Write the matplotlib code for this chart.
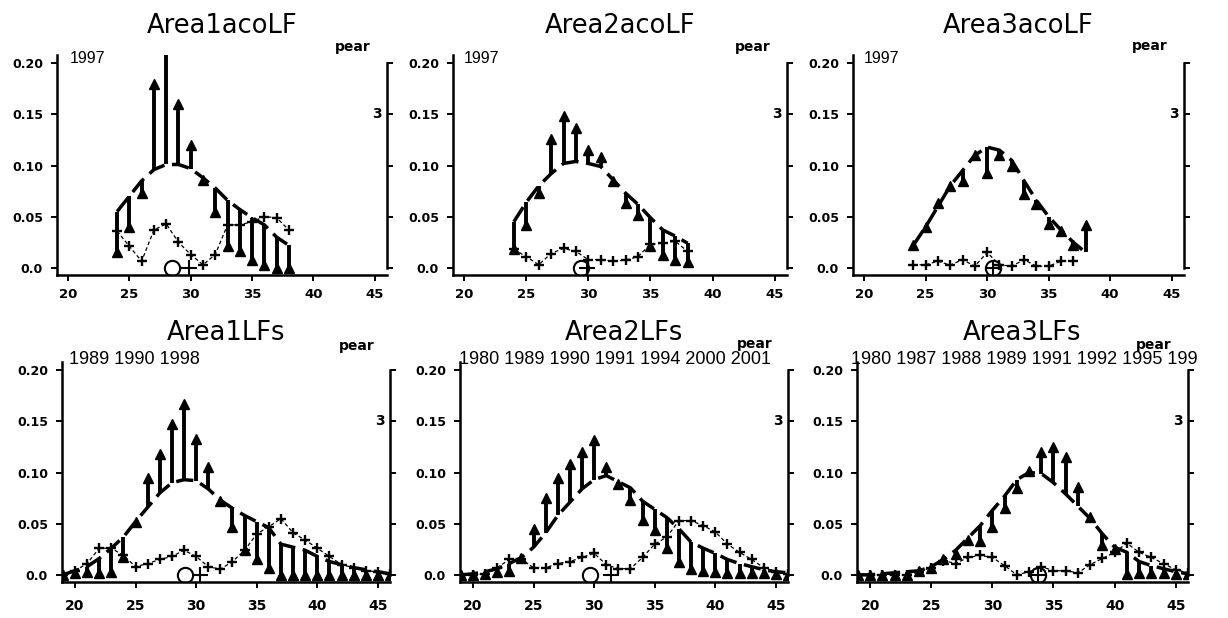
import matplotlib
matplotlib.use("Agg")
import matplotlib.pyplot as plt

# ── data ───────────────────────────────────────────────────────────────────────
LEN_TOP = list(range(24, 39))
LEN_BOT = list(range(19, 47))

TITLES = ["Area1acoLF", "Area2acoLF", "Area3acoLF",
          "Area1LFs", "Area2LFs", "Area3LFs"]
YEARS = ["1997", "1997", "1997",
         "1989 1990 1998",
         "1980 1989 1990 1991 1994 2000 2001",
         "1980 1987 1988 1989 1991 1992 1995 199"]

# predicted (dashed), observed (triangles), other series (+)
pred1 = [0.055, 0.070, 0.085, 0.096, 0.101, 0.101, 0.097, 0.088, 0.078, 0.066, 0.057, 0.049, 0.042, 0.030, 0.022]
obs1 = [0.015, 0.040, 0.073, 0.180, 0.215, 0.160, 0.120, 0.086, 0.055, 0.021, 0.016, 0.008, 0.003, 0.000, 0.000]
plus1 = [0.036, 0.021, 0.0065, 0.037, 0.043, 0.025, 0.013, 0.003, 0.013, 0.042, 0.042, 0.045, 0.050, 0.049, 0.037]

pred2 = [0.045, 0.064, 0.080, 0.092, 0.102, 0.104, 0.102, 0.099, 0.086, 0.073, 0.062, 0.049, 0.037, 0.031, 0.024]
obs2 = [0.018, 0.042, 0.073, 0.126, 0.148, 0.137, 0.115, 0.108, 0.085, 0.063, 0.052, 0.021, 0.013, 0.008, 0.006]
plus2 = [0.018, 0.011, 0.003, 0.014, 0.019, 0.016, 0.008, 0.008, 0.0065, 0.0075, 0.011, 0.023, 0.024, 0.026, 0.016]

pred3 = [0.022, 0.040, 0.060, 0.080, 0.095, 0.110, 0.118, 0.115, 0.105, 0.085, 0.066, 0.050, 0.037, 0.025, 0.015]
obs3 = [0.022, 0.040, 0.063, 0.080, 0.085, 0.110, 0.093, 0.110, 0.100, 0.072, 0.062, 0.043, 0.036, 0.022, 0.042]
plus3 = [0.003, 0.003, 0.0065, 0.0026, 0.008, 0.0016, 0.015, 0.003, 0.0016, 0.008, 0.0016, 0.0016, 0.0065, 0.0065, None]

pred4 = [0.000, 0.004, 0.008, 0.016, 0.026, 0.037, 0.052, 0.066, 0.080, 0.090, 0.093, 0.092, 0.084, 0.073,
         0.065, 0.058, 0.052, 0.046, 0.030, 0.027, 0.024, 0.018, 0.013, 0.010, 0.007, 0.005, 0.003, 0.001]
obs4 = [0.000, 0.002, 0.003, 0.002, 0.003, 0.017, 0.052, 0.095, 0.118, 0.147, 0.167, 0.133, 0.105, 0.072,
        0.047, 0.024, 0.015, 0.007, 0.000, 0.000, 0.000, 0.000, 0.000, 0.000, 0.000, 0.000, 0.000, 0.000]
plus4 = [0.000, 0.004, 0.011, 0.026, 0.026, 0.019, 0.008, 0.011, 0.015, 0.018, 0.024, 0.018, 0.008, 0.0055,
         0.013, 0.024, 0.040, 0.047, 0.055, 0.041, 0.034, 0.026, 0.018, 0.010, 0.007, 0.004, 0.003, 0.001]

pred5 = [0.000, 0.001, 0.003, 0.006, 0.011, 0.017, 0.027, 0.041, 0.058, 0.071, 0.084, 0.093, 0.097, 0.091,
         0.085, 0.072, 0.064, 0.056, 0.045, 0.032, 0.026, 0.021, 0.015, 0.011, 0.008, 0.005, 0.003, 0.002]
obs5 = [0.000, 0.000, 0.001, 0.003, 0.004, 0.016, 0.045, 0.075, 0.095, 0.108, 0.120, 0.132, 0.105, 0.089,
        0.073, 0.054, 0.044, 0.026, 0.013, 0.006, 0.004, 0.003, 0.002, 0.002, 0.002, 0.002, 0.001, 0.000]
plus5 = [0.000, 0.000, 0.001, 0.007, 0.015, 0.015, 0.007, 0.007, 0.011, 0.013, 0.017, 0.021, 0.010, 0.006,
         0.006, 0.017, 0.030, 0.037, 0.053, 0.053, 0.048, 0.042, 0.030, 0.022, 0.015, 0.007, 0.003, 0.001]

pred6 = [0.000, 0.000, 0.001, 0.002, 0.003, 0.004, 0.008, 0.015, 0.024, 0.036, 0.048, 0.063, 0.077, 0.093,
         0.100, 0.099, 0.090, 0.079, 0.067, 0.055, 0.040, 0.027, 0.022, 0.013, 0.009, 0.006, 0.003, 0.001]
obs6 = [0.000, 0.000, 0.000, 0.000, 0.000, 0.004, 0.007, 0.015, 0.020, 0.034, 0.033, 0.047, 0.065, 0.085,
        0.101, 0.120, 0.125, 0.115, 0.086, 0.057, 0.029, 0.025, 0.001, 0.002, 0.002, 0.002, 0.001, 0.001]
plus6 = [0.000, 0.000, 0.000, 0.000, 0.000, 0.003, 0.007, 0.014, 0.011, 0.017, 0.019, 0.017, 0.009, 0.000,
         0.003, 0.008, 0.004, 0.004, 0.002, 0.010, 0.016, 0.022, 0.031, 0.022, 0.017, 0.011, 0.005, 0.002]

PRED = [pred1, pred2, pred3, pred4, pred5, pred6]
OBS = [obs1, obs2, obs3, obs4, obs5, obs6]
PLUS = [plus1, plus2, plus3, plus4, plus5, plus6]

# mean markers at the base: circle, cross
CIRCLE_X = [28.5, 29.4, 30.5, 29.1, 29.7, 33.7]
CROSS_X = [29.9, 29.9, 30.5, 30.3, 31.4, 33.7]

YEAR_X = [20.15, 19.95, 19.95, 19.5, 18.85, 18.4]
PEAR_Y = [0.2155, 0.2155, 0.2165, 0.2235, 0.2255, 0.2245]

# ── layout (pixels of the 1228x618 reference) ─────────────────────────────────
W, H = 1228, 618
AX_PX = [(57, 387, 275), (453, 787, 275), (853, 1184, 275),
         (62, 390, 582), (460, 788, 582), (857, 1188, 582)]
AX_H = 220
XLIMS = [(19.1, 46.0)] * 3 + [(18.93, 46.0)] * 3
YLIM = (-0.007, 0.208)

fig = plt.figure(figsize=(W / 100, H / 100), dpi=100, facecolor="white")

for i in range(6):
    l, r, b = AX_PX[i]
    ax = fig.add_axes([l / W, 1 - b / H, (r - l) / W, AX_H / H])
    xs = LEN_TOP if i < 3 else LEN_BOT
    pred, obs, plus = PRED[i], OBS[i], PLUS[i]

    # residual bars + observed triangles
    ax.vlines(xs, obs, pred, color="black", lw=2.8, zorder=3)
    ax.plot(xs, obs, ls="none", marker="^", ms=6.5, color="black", zorder=4)
    # predicted curve
    ax.plot(xs, pred, color="black", lw=2.5, dashes=(5, 2.2), zorder=3)
    # + series
    px = [x for x, v in zip(xs, plus) if v is not None]
    pv = [v for v in plus if v is not None]
    ax.plot(px, pv, color="black", lw=0.9, dashes=(3, 2), marker="+",
            ms=7, mew=1.7, zorder=3)
    # circle / cross at the base
    ax.plot([CIRCLE_X[i]], [0], marker="o", ms=11, mfc="none", mec="black",
            mew=1.5, ls="none", zorder=5)
    ax.plot([CROSS_X[i]], [0], marker="+", ms=12, mew=1.5, color="black",
            ls="none", zorder=5)

    ax.set_xlim(*XLIMS[i])
    ax.set_ylim(*YLIM)
    ax.set_xticks([20, 25, 30, 35, 40, 45])
    ax.set_yticks([0.0, 0.05, 0.10, 0.15, 0.20])
    ax.set_yticklabels(["0.0", "0.05", "0.10", "0.15", "0.20"])

    ax.spines["top"].set_visible(False)
    for side in ["left", "bottom", "right"]:
        ax.spines[side].set_linewidth(1.8)
    ax.spines["right"].set_bounds(0.0, 0.20)

    ax.tick_params(axis="y", which="both", direction="out", length=4, width=1.4,
                   right=True, labelright=False, pad=6,
                   labelsize=9, labelcolor="black")
    ax.tick_params(axis="x", direction="out", length=4, width=1.4,
                   pad=5 if i < 3 else 8, labelsize=10 if i >= 3 else 9.5)
    for lab in ax.get_xticklabels() + ax.get_yticklabels():
        lab.set_fontweight("bold")

    ax.set_title(TITLES[i], fontsize=18.5, pad=15.5)

    ax.text(YEAR_X[i], 0.205 if i < 3 else 0.210, YEARS[i],
            fontsize=11.5 if i < 3 else 13, family="Liberation Sans",
            ha="left", va="center", clip_on=False)
    ax.text(44.7, PEAR_Y[i], "pear", fontsize=10, fontweight="bold",
            ha="right", va="center", clip_on=False)
    ax.text(XLIMS[i][1] - 0.45, 0.15, "3", fontsize=10, fontweight="bold",
            ha="right", va="center", clip_on=False)

fig.savefig("out.png", dpi=100, facecolor="white")
